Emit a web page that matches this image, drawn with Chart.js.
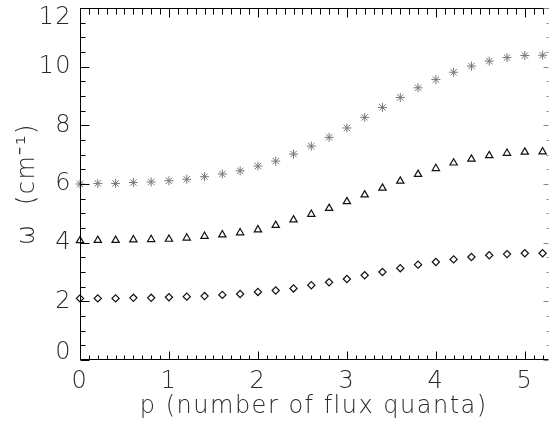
<!DOCTYPE html>
<html>
<head>
<meta charset="utf-8">
<script src="https://cdn.jsdelivr.net/npm/chart.js@4/dist/chart.umd.min.js"></script>
<style>
  html, body { margin: 0; padding: 0; background: #fff; }
  #wrap { width: 553px; height: 428px; }
</style>
</head>
<body>
<div id="wrap"><canvas id="c"></canvas></div>
<script>
// flux quanta p
const P = [0, 0.2, 0.4, 0.6, 0.8, 1.0, 1.2, 1.4, 1.6, 1.8, 2.0, 2.2, 2.4, 2.6,
  2.8, 3.0, 3.2, 3.4, 3.6, 3.8, 4.0, 4.2, 4.4, 4.6, 4.8, 5.0, 5.2];

// omega (cm^-1) for the three modes
const STARS = [6.00, 6.02, 6.02, 6.05, 6.07, 6.11, 6.16, 6.25, 6.34, 6.45, 6.61, 6.78, 7.02, 7.29,
  7.59, 7.91, 8.27, 8.61, 8.95, 9.28, 9.56, 9.81, 10.02, 10.19, 10.31, 10.38, 10.39];
const TRIANGLES = [4.07, 4.08, 4.08, 4.10, 4.11, 4.12, 4.16, 4.22, 4.27, 4.34, 4.44, 4.59, 4.78, 4.97,
  5.17, 5.40, 5.63, 5.86, 6.10, 6.33, 6.53, 6.72, 6.85, 6.97, 7.05, 7.09, 7.10];
const DIAMONDS = [2.10, 2.10, 2.10, 2.12, 2.12, 2.14, 2.16, 2.18, 2.22, 2.25, 2.32, 2.37, 2.44, 2.55,
  2.65, 2.76, 2.89, 3.00, 3.13, 3.25, 3.34, 3.43, 3.51, 3.57, 3.61, 3.64, 3.64];

const X_MIN = 0, X_MAX = 5.255;
const Y_MIN = 0, Y_MAX = 12;

const FONT = { family: "'DejaVu Sans', sans-serif", size: 24, weight: 200 };
const TEXT = '#2a2a2a';

const pts = (ys) => P.map((x, i) => ({ x, y: ys[i] }));

// ── wide letter spacing, end labels pulled inside the frame ──
const textTweaks = {
  id: 'textTweaks',
  beforeDraw(chart) {
    chart.ctx.letterSpacing = '1.5px';
    const items = chart.scales.y.getLabelItems();
    items.forEach((it) => {
      if (it._moved) return;
      if (Number(it.label) === Y_MAX && it.label !== '') it.options.translation[1] += 10;
      if (Number(it.label) === Y_MIN && it.label !== '') it.options.translation[1] -= 7;
      it._moved = true;
    });
  },
};

// ── inward IDL-style ticks and frame ────────────────────────
const frame = {
  id: 'frame',
  afterDraw(chart) {
    const { ctx, chartArea: a, scales: { x, y } } = chart;
    const L = Math.round(a.left) + 0.5, R = Math.round(a.right) - 0.5;
    const T = Math.round(a.top) + 0.5, B = Math.round(a.bottom) - 0.5;
    ctx.save();
    ctx.lineWidth = 1;
    ctx.strokeStyle = '#000';
    ctx.beginPath();
    ctx.moveTo(L, T); ctx.lineTo(R + 1, T);
    ctx.moveTo(L, T); ctx.lineTo(L, B);
    ctx.lineTo(R + 1, B);
    ctx.stroke();

    ctx.beginPath();
    for (let i = 0; i / 10 <= X_MAX + 1e-9; i++) {
      const px = Math.round(x.getPixelForValue(i / 10)) + 0.5;
      const major = i % 10 === 0;
      ctx.moveTo(px, B); ctx.lineTo(px, B - (major ? 8 : 4));
      ctx.moveTo(px, T); ctx.lineTo(px, T + (major ? 9 : 6));
    }
    for (let i = 0; i / 2 <= Y_MAX + 1e-9; i++) {
      const py = Math.round(y.getPixelForValue(i / 2)) + 0.5;
      const major = i % 4 === 0;
      ctx.moveTo(L, py); ctx.lineTo(L + (major ? 9 : 5), py);
    }
    ctx.stroke();

    ctx.strokeStyle = '#888';
    ctx.beginPath();
    for (let i = 0; i / 2 <= Y_MAX + 1e-9; i++) {
      const py = Math.round(y.getPixelForValue(i / 2)) + 0.5;
      const major = i % 4 === 0;
      ctx.moveTo(R + 1, py); ctx.lineTo(R + 1 - (major ? 5 : 2), py);
    }
    ctx.stroke();
    ctx.restore();
  },
};

new Chart(document.getElementById('c'), {
  type: 'scatter',
  data: {
    datasets: [
      {
        data: pts(STARS),
        pointStyle: 'star',
        pointRadius: 4.5,
        borderColor: '#777',
        backgroundColor: '#777',
        borderWidth: 1,
        clip: false,
      },
      {
        data: pts(TRIANGLES),
        pointStyle: 'triangle',
        pointRadius: 4.2,
        borderColor: '#111',
        backgroundColor: 'transparent',
        borderWidth: 1.2,
        clip: false,
      },
      {
        data: pts(DIAMONDS),
        pointStyle: 'rectRot',
        pointRadius: 3.6,
        borderColor: '#111',
        backgroundColor: 'transparent',
        borderWidth: 1.2,
        clip: false,
      },
    ],
  },
  options: {
    responsive: true,
    maintainAspectRatio: false,
    animation: false,
    layout: { padding: { top: 8, right: 0, left: 0, bottom: 0 } },
    plugins: { legend: { display: false }, tooltip: { enabled: false } },
    scales: {
      x: {
        type: 'linear',
        min: X_MIN,
        max: X_MAX,
        grid: { display: false, drawTicks: false },
        border: { display: false },
        ticks: {
          stepSize: 0.1,
          autoSkip: false,
          maxRotation: 0,
          padding: 7,
          color: TEXT,
          font: FONT,
          callback: (v) => (Math.abs(v - Math.round(v)) < 1e-6 ? Math.round(v) : ''),
        },
        title: {
          display: true,
          text: 'p (number of flux quanta)',
          color: TEXT,
          font: FONT,
          padding: { top: 0, bottom: 7 },
        },
        afterFit(s) {
          s.height = 68;
          s.paddingLeft = 0;
          s.paddingRight = 0;
        },
      },
      y: {
        type: 'linear',
        min: Y_MIN,
        max: Y_MAX,
        grid: { display: false, drawTicks: false },
        border: { display: false },
        ticks: {
          stepSize: 0.5,
          autoSkip: false,
          padding: 8,
          color: TEXT,
          font: FONT,
          callback: (v) => (Math.abs(v % 2) < 1e-6 ? v : ''),
        },
        title: {
          display: true,
          text: 'ω  (cm⁻¹)',
          color: TEXT,
          font: FONT,
          padding: { top: 13, bottom: 0 },
        },
        afterFit(s) {
          s.width = 80;
          s.paddingTop = 0;
          s.paddingBottom = 0;
        },
      },
    },
  },
  plugins: [textTweaks, frame],
});
</script>
</body>
</html>
